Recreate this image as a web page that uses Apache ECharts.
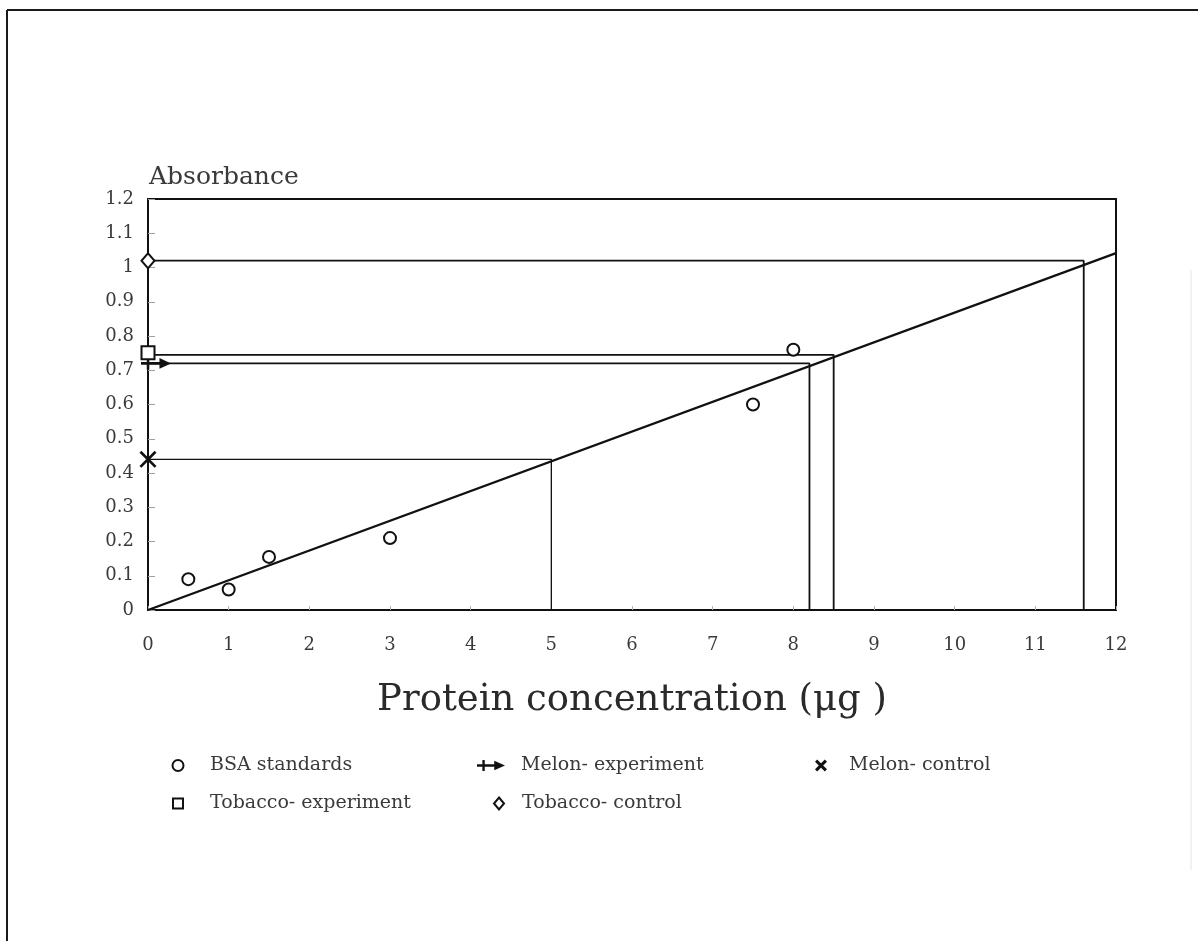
<!DOCTYPE html>
<html>
<head>
<meta charset="utf-8">
<script src="https://cdn.jsdelivr.net/npm/echarts@6/dist/echarts.min.js"></script>
<style>
  html, body { margin: 0; padding: 0; background: #fff; }
  #chart { width: 1198px; height: 941px; }
</style>
</head>
<body>
<div id="chart"></div>
<script>
// BSA standard points (µg protein, absorbance)
const bsaConc = [0.5, 1, 1.5, 3, 7.5, 8];
const bsaAbs = [0.09, 0.06, 0.155, 0.21, 0.60, 0.76];

// Fitted standard curve end points
const curveConc = [0, 12];
const curveAbs = [0, 1.042];

// Sample readings: absorbance read across to the curve, then down to concentration
const sampleNames = ['Melon- experiment', 'Melon- control', 'Tobacco- experiment', 'Tobacco- control'];
const sampleAbs = [0.72, 0.44, 0.745, 1.02];
const sampleConc = [8.2, 5.0, 8.5, 11.6];

// Axis settings
const xMin = 0, xMax = 12, xStep = 1;
const yMin = 0, yMax = 1.2, yStep = 0.1;

const FONT = 'DejaVu Serif';
const INK = '#111111';
const TEXT = '#3a3a3a';

// Marker shapes
const arrowPath = 'path://M0,3.8 H19 V6.2 H0 Z M5,0 H7.2 V10 H5 Z M16,0.5 L26,5 L16,9.5 Z';
const crossPath = 'path://M0,1.1 L1.1,0 L10,8.9 L8.9,10 Z M8.9,0 L10,1.1 L1.1,10 L0,8.9 Z';
const crossBold = 'path://M0,1.8 L1.8,0 L10,8.2 L8.2,10 Z M8.2,0 L10,1.8 L1.8,10 L0,8.2 Z';
const sampleSymbols = [arrowPath, crossPath, 'emptyRect', 'emptyDiamond'];
const sampleSymbolSizes = [[30, 12], [17, 17], [13, 13], [13, 15]];
const sampleSymbolOffsets = [[8, 0], [0, 0], [0, -2], [0, 0]];
const legendIcons = [arrowPath, crossBold, 'emptyRect', 'emptyDiamond'];

const series = [];

series.push({
  name: 'BSA standards',
  type: 'scatter',
  symbol: 'emptyCircle',
  symbolSize: 12,
  itemStyle: { color: INK, borderWidth: 1.3, opacity: 1 },
  data: bsaConc.map((x, i) => [x, bsaAbs[i]]),
  z: 5
});

series.push({
  name: 'Standard curve',
  type: 'line',
  symbol: 'none',
  lineStyle: { color: INK, width: 2.2 },
  data: curveConc.map((x, i) => [x, curveAbs[i]]),
  z: 4
});

sampleNames.forEach((name, i) => {
  // reading line: across from the axis to the curve, then down to the x axis
  series.push({
    name: name + ' reading',
    type: 'line',
    symbol: 'none',
    lineStyle: { color: INK, width: i === 1 ? 1.3 : 1.8 },
    data: [[0, sampleAbs[i]], [sampleConc[i], sampleAbs[i]], [sampleConc[i], 0]],
    z: 3
  });
  series.push({
    name: name,
    type: 'scatter',
    symbol: sampleSymbols[i],
    symbolSize: sampleSymbolSizes[i],
    symbolOffset: sampleSymbolOffsets[i],
    itemStyle: { color: INK, borderWidth: 2.4, opacity: 1 },
    data: [[0, sampleAbs[i]]],
    z: 6
  });
});

// One legend per entry so each sits at its own place
function legendAt(name, icon, iconCx, textX, rowY, w, h, bw) {
  const left = iconCx - w / 2;
  return {
    data: [{ name: name, icon: icon }],
    left: left,
    top: rowY - 12,
    itemWidth: w,
    itemHeight: h,
    selectedMode: false,
    itemStyle: { color: INK, borderColor: INK, borderWidth: bw, opacity: 1 },
    textStyle: {
      fontFamily: FONT, fontSize: 19, color: TEXT,
      padding: [0, 0, 0, Math.max(0, textX - left - w - 11)]
    }
  };
}

const legends = [
  legendAt('BSA standards', 'emptyCircle', 172, 210, 763, 11, 11, 2),
  legendAt(sampleNames[0], legendIcons[0], 486, 522, 763, 28, 11, 0),
  legendAt(sampleNames[1], legendIcons[1], 816, 850, 763, 12, 12, 0),
  legendAt(sampleNames[2], legendIcons[2], 172, 210, 801, 10, 10, 2.6),
  legendAt(sampleNames[3], legendIcons[3], 493, 522, 801, 10, 12, 2.6)
];

const option = {
  backgroundColor: '#ffffff',
  animation: false,
  textStyle: { fontFamily: FONT },
  grid: {
    left: 148, right: 82, top: 199, bottom: 331,
    show: true, borderColor: INK, borderWidth: 2, backgroundColor: 'transparent'
  },
  legend: legends,
  xAxis: {
    type: 'value',
    min: xMin, max: xMax, interval: xStep,
    name: 'Protein concentration (μg )',
    nameLocation: 'middle',
    nameGap: 72,
    nameTextStyle: { fontFamily: FONT, fontSize: 37, color: '#2a2a2a' },
    axisLine: { show: true, lineStyle: { color: INK, width: 2 } },
    axisTick: { show: true, inside: true, length: 4, lineStyle: { color: '#b0b0b0' } },
    axisLabel: { fontFamily: FONT, fontSize: 18, color: TEXT, margin: 26 },
    splitLine: { show: false }
  },
  yAxis: {
    type: 'value',
    min: yMin, max: yMax, interval: yStep,
    name: 'Absorbance',
    nameLocation: 'end',
    nameGap: 9,
    nameTextStyle: { fontFamily: FONT, fontSize: 25, color: TEXT, align: 'left', padding: [0, 0, 0, 1] },
    axisLine: { show: true, lineStyle: { color: INK, width: 2 } },
    axisTick: { show: true, inside: true, length: 7, lineStyle: { color: '#a0a0a0' } },
    axisLabel: {
      fontFamily: FONT, fontSize: 18, color: TEXT, margin: 14,
      formatter: v => String(Math.round(v * 10) / 10)
    },
    splitLine: { show: false }
  },
  graphic: [
    { type: 'line', shape: { x1: 7, y1: 10, x2: 1198, y2: 10 }, style: { stroke: '#1a1a1a', lineWidth: 2 } },
    { type: 'line', shape: { x1: 7, y1: 10, x2: 7, y2: 941 }, style: { stroke: '#1a1a1a', lineWidth: 2 } },
    { type: 'line', shape: { x1: 1191, y1: 270, x2: 1191, y2: 870 }, style: { stroke: '#e4e4e4', lineWidth: 1 } }
  ],
  series: series
};

const chart = echarts.init(document.getElementById('chart'), null, { renderer: 'canvas' });
chart.setOption(option);
</script>
</body>
</html>
